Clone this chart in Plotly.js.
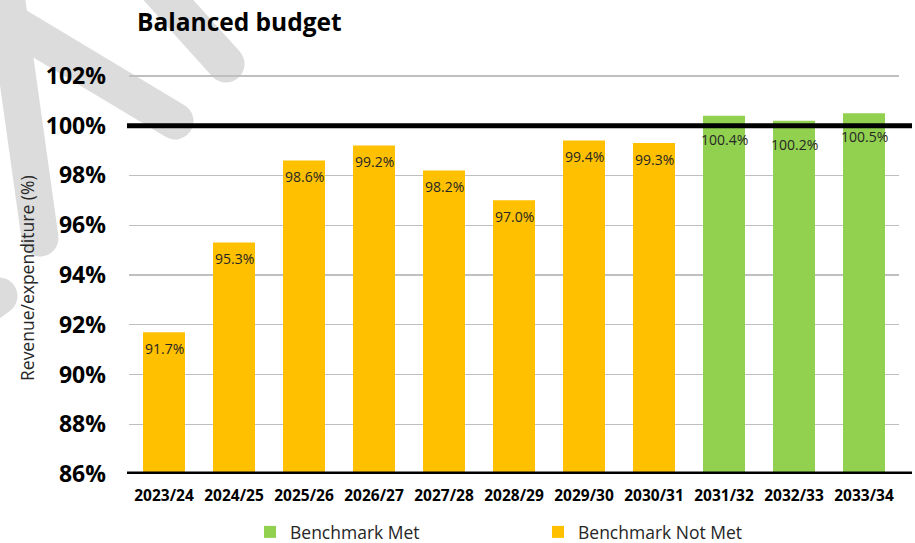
<!DOCTYPE html>
<html>
<head>
<meta charset="utf-8">
<script src="https://cdn.plot.ly/plotly-3.0.1.min.js"></script>
<style>html,body{margin:0;padding:0;background:#fff;}#chart{width:915px;height:543px;}</style>
</head>
<body>
<div id="chart"></div>
<script>
// ---- data ----
var categories = ['2023/24','2024/25','2025/26','2026/27','2027/28','2028/29','2029/30','2030/31','2031/32','2032/33','2033/34'];
var values     = [91.7, 95.3, 98.6, 99.2, 98.2, 97.0, 99.4, 99.3, 100.4, 100.2, 100.5];
var benchmarkMet = [false,false,false,false,false,false,false,false,true,true,true];
var yTickValues = [86, 88, 90, 92, 94, 96, 98, 100, 102];
var yTickLabels = ['86%','88%','90%','92%','94%','96%','98%','100%','102%'];
var seriesNames = ['Benchmark Met', 'Benchmark Not Met'];

// ---- geometry helpers (plot area in px) ----
var W = 915, H = 543;
var M = {l:129, r:16, t:51, b:69};
var PW = W - M.l - M.r, PH = H - M.t - M.b;
function px2x(px){ return (px - M.l) / PW; }
function px2y(py){ return (H - M.b - py) / PH; }

// decorative watermark bands (pixel space): x0,y0,x1,y1
var bands = [
  [126,-47,226,64],
  [-20,4,175,121],
  [4,-20,40,238],
  [-60,340,-1,296]
];
var svg = '<svg xmlns="http://www.w3.org/2000/svg" width="' + W + '" height="' + H + '" viewBox="0 0 ' + W + ' ' + H + '">' +
  bands.map(function(b){
    return '<line x1="' + b[0] + '" y1="' + b[1] + '" x2="' + b[2] + '" y2="' + b[3] +
           '" stroke="#dcdcdc" stroke-width="37" stroke-linecap="round"/>';
  }).join('') + '</svg>';
var watermark = 'data:image/svg+xml;charset=utf-8,' + encodeURIComponent(svg);

var shapes = [];
// black reference lines at 86% and 100%
[86, 100].forEach(function(v){
  shapes.push({type:'line', xref:'paper', yref:'y', x0:px2x(127), x1:px2x(912), y0:v, y1:v, line:{color:'#000', width:5}, layer:'above'});
});

var metY = values.map(function(v,i){ return benchmarkMet[i] ? v : null; });
var notMetY = values.map(function(v,i){ return benchmarkMet[i] ? null : v; });

var traces = [
  {type:'bar', name:seriesNames[0], x:categories, y:metY, marker:{color:'#92D050'}, hoverinfo:'skip'},
  {type:'bar', name:seriesNames[1], x:categories, y:notMetY, marker:{color:'#FFC000'}, hoverinfo:'skip'}
];

var annotations = values.map(function(v,i){
  return {x:categories[i], y:v, xref:'x', yref:'y', text:v.toFixed(1)+'%', showarrow:false,
          yanchor:'middle', yshift: benchmarkMet[i] ? -23.5 : -16,
          font:{family:'Open Sans', size:14, color:'#262626'}};
});
annotations.push({xref:'paper', yref:'paper', x:px2x(27), y:px2y(278), text:'Revenue/expenditure (%)',
  textangle:-90, showarrow:false, xanchor:'center', yanchor:'middle',
  font:{family:'Open Sans', size:17.5, color:'#262626'}});

var layout = {
  width:W, height:H, autosize:false,
  margin:{l:M.l, r:M.r, t:M.t, b:M.b, pad:0, autoexpand:false},
  paper_bgcolor:'#ffffff', plot_bgcolor:'rgba(0,0,0,0)',
  title:{text:'Balanced budget', xref:'container', yref:'container', x:137/W, xanchor:'left', y:1-22/H, yanchor:'middle',
         font:{family:'Open Sans', size:24.5, weight:700, color:'#000'}},
  barmode:'overlay', bargap:0.4,
  xaxis:{type:'category', range:[-0.5,10.5], showgrid:false, showline:false, zeroline:false, ticks:'', automargin:false,
         tickangle:0, ticklabelstandoff:10, tickfont:{family:'Open Sans', size:15.5, weight:700, color:'#000'}, fixedrange:true},
  yaxis:{range:[86,103], tickmode:'array', tickvals:yTickValues, ticktext:yTickLabels, showgrid:true, gridcolor:'#bfbfbf', gridwidth:1.3,
         zeroline:false, showline:false, ticks:'', ticklabelstandoff:22, automargin:false,
         tickfont:{family:'Open Sans', size:23, weight:700, color:'#000'}, fixedrange:true},
  showlegend:true,
  legend:{orientation:'h', xref:'container', yref:'container', x:250/W, xanchor:'left', y:1-532/H, yanchor:'middle', traceorder:'normal',
          entrywidth:243, entrywidthmode:'pixels',
          font:{family:'Open Sans', size:17.5, color:'#262626'}, bgcolor:'rgba(0,0,0,0)'},
  images:[{source:watermark, xref:'paper', yref:'paper', x:px2x(0), y:px2y(0), sizex:W/PW, sizey:H/PH,
           xanchor:'left', yanchor:'top', sizing:'stretch', layer:'below', opacity:1}],
  shapes:shapes,
  annotations:annotations
};

Plotly.newPlot('chart', traces, layout, {displayModeBar:false, staticPlot:true});
</script>
</body>
</html>
